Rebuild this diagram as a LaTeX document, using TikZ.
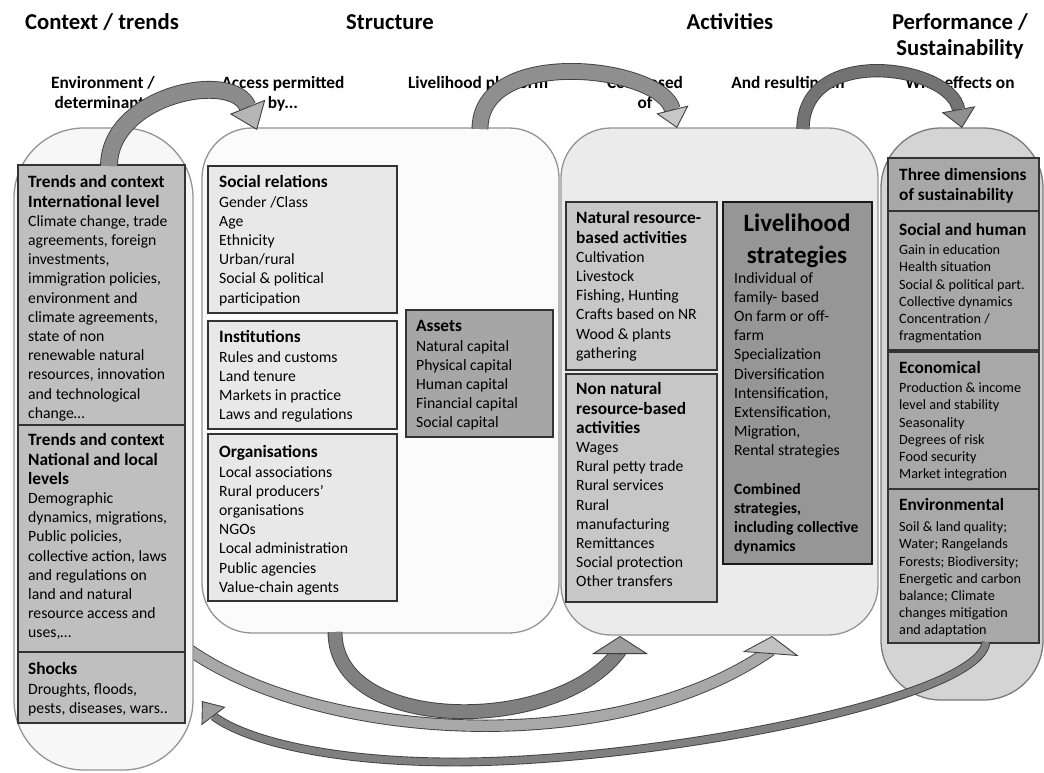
\documentclass[tikz,border=0pt]{standalone}
\usepackage{fontspec}
\setmainfont{Carlito}
\usetikzlibrary{calc, arrows.meta}
\definecolor{ctxbg}{gray}{0.97}
\definecolor{structbg}{gray}{0.985}
\definecolor{actbg}{gray}{0.92}
\definecolor{perfbg}{gray}{0.83}
\definecolor{ctxbox}{gray}{0.75}
\definecolor{structbox}{gray}{0.91}
\definecolor{assetbox}{gray}{0.65}
\definecolor{actbox}{gray}{0.78}
\definecolor{lhbox}{gray}{0.59}
\definecolor{perfbox}{gray}{0.66}
\definecolor{armA}{gray}{0.55}
\definecolor{headA}{gray}{0.71}
\definecolor{armB}{gray}{0.56}
\definecolor{headB}{gray}{0.78}
\definecolor{armC}{gray}{0.45}
\definecolor{headC}{gray}{0.56}
\definecolor{armD}{gray}{0.50}
\definecolor{headD}{gray}{0.62}
\definecolor{armE}{gray}{0.66}
\definecolor{headE}{gray}{0.76}
\definecolor{armF}{gray}{0.50}
\definecolor{headF}{gray}{0.62}
\newcommand{\boxtitle}[1]{{\fontsize{17.3}{19.2}\selectfont\bfseries #1}}

\begin{document}
\begin{tikzpicture}[
	x=1pt, y=-1pt,
	% Styles for containers, boxes and texts
	container/.style={draw=black!42, line width=1.3pt},
	infobox/.style={draw=black!80, line width=1.1pt},
	headtext/.style={font=\fontsize{22.7}{26}\selectfont\bfseries, anchor=base, inner sep=0pt},
	subtext/.style={font=\fontsize{17.3}{20}\selectfont\bfseries, align=center, anchor=north, inner sep=0pt},
	bodytext/.style={font=\fontsize{15.7}{19.2}\selectfont, align=left, anchor=north west, inner sep=0pt},
	smalltext/.style={font=\fontsize{14.2}{17.2}\selectfont, align=left, anchor=north west, inner sep=0pt},
	% Styles for the curved block arrows
	armband/.style={draw=black!75, line width=0.9pt, double=#1},
	headline/.style={draw=black!75, line width=0.9pt}
	]
	\useasboundingbox (0,0) rectangle (1044,772);
	
	% ==========================================
	% 0. ARROW FROM CONTEXT (behind the container)
	% ==========================================
	\coordinate (aEs) at (176,640);
	\coordinate (aEt) at (772,636);
	\coordinate (aEd) at (768,690);
	\coordinate (aEb) at ($(aEt)!18pt!(aEd)$);
	\coordinate (aEe) at ($(aEb)!4pt!(aEt)$);
	\draw[armband=armE, double distance=10.5pt] (aEs) .. controls (300,740) and (608,764) .. (aEe);
	\draw[headline, -{Triangle[width=56pt,length=18pt,fill=headE,line width=0.9pt]}] (aEb) -- (aEt);
	
	% ==========================================
	% 1. HEADINGS
	% ==========================================
	\node[headtext] (hctx) at (102,29) {Context / trends};
	\node[headtext] (hstruct) at (390,29) {Structure};
	\node[headtext] (hact) at (730,29) {Activities};
	\node[headtext] (hperf) at (960,29) {Performance /};
	\node[headtext] (hsust) at (960,55) {Sustainability};
	
	\node[subtext] (senv) at (103,76.5) {Environment /\\determinants};
	\node[subtext] (sacc) at (283,76.5) {Access permitted\\by...};
	\node[subtext] (splat) at (478,76.5) {Livelihood platform};
	\node[subtext] (scomp) at (645,76.5) {Composed\\of};
	\node[subtext] (sres) at (788,76.5) {And resulting in};
	\node[subtext] (seff) at (960,76.5) {With effects on};
	
	% ==========================================
	% 2. CONTEXT / TRENDS
	% ==========================================
	\draw[container, fill=ctxbg, rounded corners=70pt] (14,128) rectangle (193,770);
	\draw[infobox, fill=ctxbox] (18,165) rectangle (185,425);
	\draw[infobox, fill=ctxbox] (18,425) rectangle (185,652);
	\draw[infobox, fill=ctxbox] (18,652) rectangle (185,723);
	\node[bodytext] (intl) at (28,175.5) {\boxtitle{Trends and context}\\\boxtitle{International level}\\
		Climate change, trade\\agreements, foreign\\investments,\\immigration policies,\\environment and\\
		climate agreements,\\state of non\\renewable natural\\resources, innovation\\and technological\\change\ldots};
	\node[bodytext] (natl) at (28,433.5) {\boxtitle{Trends and context}\\\boxtitle{National and local}\\\boxtitle{levels}\\
		Demographic\\dynamics, migrations,\\Public policies,\\collective action, laws\\and regulations on\\
		land and natural\\resource access and\\uses,\ldots};
	\node[bodytext] (shock) at (28,662.5) {\boxtitle{Shocks}\\Droughts, floods,\\pests, diseases, wars..};
	
	% ==========================================
	% 3. STRUCTURE
	% ==========================================
	\draw[container, fill=structbg, rounded corners=50pt] (202,128) rectangle (559,633);
	\draw[infobox, fill=structbox] (208,166) rectangle (397,313);
	\draw[infobox, fill=structbox] (208,321) rectangle (397,429);
	\draw[infobox, fill=structbox] (208,434) rectangle (397,601);
	\draw[infobox, fill=assetbox] (406,310) rectangle (553,437);
	\node[bodytext] (socrel) at (219,175.5) {\boxtitle{Social relations}\\Gender /Class\\Age\\Ethnicity\\Urban/rural\\
		Social \& political\\participation};
	\node[bodytext] (inst) at (219,330.5) {\boxtitle{Institutions}\\Rules and customs\\Land tenure\\
		Markets in practice\\Laws and regulations};
	\node[bodytext] (orgs) at (219,445.5) {\boxtitle{Organisations}\\Local associations\\Rural producers’\\
		organisations\\NGOs\\Local administration\\Public agencies\\Value-chain agents};
	\node[bodytext] (assets) at (416,320.5) {\boxtitle{Assets}\\Natural capital\\Physical capital\\
		Human capital\\Financial capital\\Social capital};
	
	% ==========================================
	% 4. ACTIVITIES
	% ==========================================
	\draw[container, fill=actbg, rounded corners=50pt] (561,128) rectangle (878,635);
	\draw[infobox, fill=actbox] (566,202) rectangle (717,370);
	\draw[infobox, fill=actbox] (566,374) rectangle (717,602);
	\draw[infobox, fill=lhbox, line width=1.6pt, draw=black!90] (723,202) rectangle (872,564);
	\node[bodytext] (nrb) at (576,211.5) {\boxtitle{Natural resource-}\\\boxtitle{based activities}\\
		Cultivation\\Livestock\\Fishing, Hunting\\Crafts based on NR\\Wood \& plants\\gathering};
	\node[bodytext] (nonnrb) at (576,382.5) {\boxtitle{Non natural}\\\boxtitle{resource-based}\\\boxtitle{activities}\\
		Wages\\Rural petty trade\\Rural services\\Rural\\manufacturing\\Remittances\\Social protection\\Other transfers};
	\node[font=\fontsize{25}{32}\selectfont\bfseries, align=center, anchor=north, inner sep=0pt] (lhtitle)
		at (797,213.5) {Livelihood\\strategies};
	\node[bodytext] (lhbody) at (734,272) {Individual of\\family- based\\On farm or off-\\farm\\Specialization\\
		Diversification\\Intensification,\\Extensification,\\Migration,\\Rental strategies\\[19.2pt]
		\textbf{Combined}\\\textbf{strategies,}\\\textbf{including collective}\\\textbf{dynamics}};
	
	% ==========================================
	% 5. PERFORMANCE / SUSTAINABILITY
	% ==========================================
	\draw[container, fill=perfbg, draw=black!52, rounded corners=60pt] (881,128) rectangle (1043,700);
	\draw[infobox, fill=perfbox] (888,158) rectangle (1039,211);
	\draw[infobox, fill=perfbox] (888,211) rectangle (1039,350);
	\draw[infobox, fill=perfbox] (888,352) rectangle (1039,489);
	\draw[infobox, fill=perfbox] (888,489) rectangle (1039,643);
	\node[font=\fontsize{17.3}{20}\selectfont\bfseries, align=left, anchor=north west, inner sep=0pt] (dims)
		at (899,168.5) {Three dimensions\\of sustainability};
	\node[smalltext] (soc) at (899,223.4) {\boxtitle{Social and human}\\[1.8pt]Gain in education\\Health situation\\
		Social \& political part.\\Collective dynamics\\Concentration /\\fragmentation};
	\node[smalltext] (eco) at (899,361.4) {\boxtitle{Economical}\\[1.8pt]Production \& income\\level and stability\\
		Seasonality\\Degrees of risk\\Food security\\Market integration};
	\node[smalltext] (envt) at (899,498.4) {\boxtitle{Environmental}\\[3.8pt]Soil \& land quality;\\Water; Rangelands\\
		Forests; Biodiversity;\\Energetic and carbon\\balance; Climate\\changes mitigation\\and adaptation};
	
	% ==========================================
	% 6. CURVED BLOCK ARROWS
	% ==========================================
	% Context -> Structure
	\coordinate (aAs) at (109,166);
	\coordinate (aAt) at (257,130);
	\coordinate (aAd) at (238,83);
	\coordinate (aAb) at ($(aAt)!25pt!(aAd)$);
	\draw[armband=armA, double distance=16pt] (aAs) .. controls (109,95) and ($(aAb)!40pt!(aAd)$) .. (aAb);
	\draw[headline, -{Triangle[width=38pt,length=25pt,fill=headA,line width=0.9pt]}] (aAb) -- (aAt);
	
	% Structure -> Activities (top)
	\coordinate (aBs) at (480,129);
	\coordinate (aBt) at (677,128);
	\coordinate (aBd) at (668,92);
	\coordinate (aBb) at ($(aBt)!19pt!(aBd)$);
	\draw[armband=armB, double distance=15pt] (aBs) .. controls (480,45) and ($(aBb)!45pt!(aBd)$) .. (aBb);
	\draw[headline, -{Triangle[width=33pt,length=19pt,fill=headB,line width=0.9pt]}] (aBb) -- (aBt);
	
	% Activities -> Performance
	\coordinate (aCs) at (803,129);
	\coordinate (aCt) at (962,128);
	\coordinate (aCd) at (955,90);
	\coordinate (aCb) at ($(aCt)!19pt!(aCd)$);
	\draw[armband=armC, double distance=11.5pt] (aCs) .. controls (803,44) and ($(aCb)!45pt!(aCd)$) .. (aCb);
	\draw[headline, -{Triangle[width=34pt,length=19pt,fill=headC,line width=0.9pt]}] (aCb) -- (aCt);
	
	% Structure -> Activities (bottom)
	\coordinate (aDs) at (335,632);
	\coordinate (aDt) at (620,636);
	\coordinate (aDd) at (620,690);
	\coordinate (aDb) at ($(aDt)!18pt!(aDd)$);
	\coordinate (aDe) at ($(aDb)!4pt!(aDt)$);
	\draw[armband=armD, double distance=13pt] (aDs) .. controls (335,735) and (560,735) .. (aDe);
	\draw[headline, -{Triangle[width=56pt,length=18pt,fill=headD,line width=0.9pt]}] (aDb) -- (aDt);
	
	% Performance -> Context (feedback)
	\coordinate (aFs) at (986,642);
	\coordinate (aFm) at (455,762);
	\coordinate (aFt) at (202,701);
	\coordinate (aFd) at (224,730);
	\coordinate (aFb) at ($(aFt)!19pt!(aFd)$);
	\draw[armband=armF, double distance=7pt] (aFs) .. controls (980,700) and (650,762) .. (aFm)
		.. controls (330,762) and (245,740) .. (aFb);
	\draw[headline, -{Triangle[width=30pt,length=19pt,fill=headF,line width=0.9pt]}] (aFb) -- (aFt);
	
\end{tikzpicture}
\end{document}
